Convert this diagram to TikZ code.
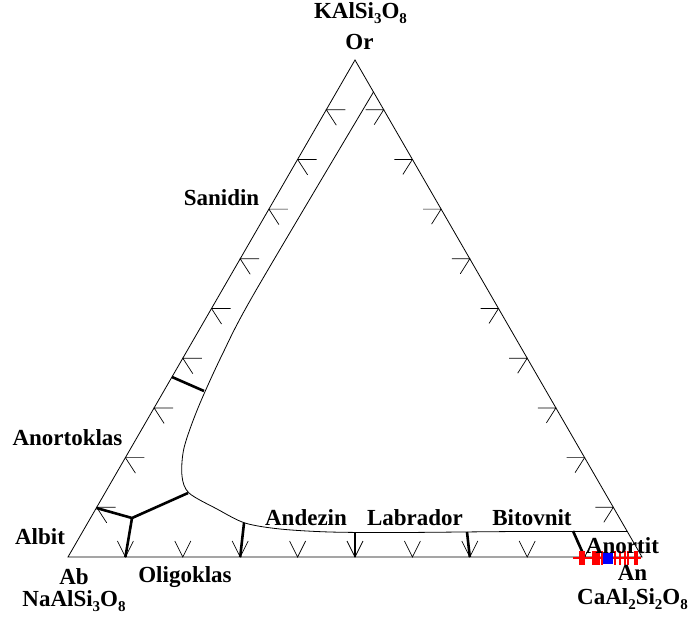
\documentclass[tikz,border=0pt]{standalone}
\usepackage{fontspec}
\setmainfont{Liberation Serif}
\newcommand\mysub[1]{\raisebox{-5pt}{\fontsize{15}{15}\selectfont #1}}
\begin{document}
\begin{tikzpicture}[x=1pt,y=-1pt,
  thinline/.style={line width=0.8pt},
  thickline/.style={line width=2.6pt,line join=round},
  lbl/.style={font=\fontsize{23}{26}\selectfont\bfseries, inner sep=0pt, anchor=base},
  tickmark/.style={line width=0.7pt},
  redmark/.style={red,line width=1.4pt}]
\useasboundingbox (0,0) rectangle (692,623);
\coordinate (Or) at (355,60);
\coordinate (Ab) at (68,557);
\coordinate (An) at (642,557);
\draw[thinline] (Or) -- (Ab) -- (An) -- cycle;
% ticks
\foreach \k in {1,...,9} {
  \draw[tickmark] ({68+28.7*\k+19},{557-49.7*\k}) -- ++(-19,0) -- ++(10,15.5);
  \draw[tickmark] ({642-28.7*\k-18},{557-49.7*\k}) -- ++(18,0) -- ++(-9.5,15);
  \draw[tickmark] ({68+57.4*\k-8},541) -- ++(8,16) -- ++(8,-16);
}
% inner curve
\draw[thinline] plot[smooth, tension=0.5] coordinates {(373.5,92) (255,292) (222,355) (198,408) (184,448) (182,476) (189,493) (217,509) (245,523) (280,529) (330,532) (400,532.5) (520,531.5) (627.6,531.5)};
% thick boundaries
\coordinate (s1) at (172,377); \coordinate (s2) at (204,391);
\draw[thickline] (s1) -- (s2);
\coordinate (j) at (132,518);
\coordinate (jl) at (96.5,508); \coordinate (jc) at (188,493); \coordinate (jb) at (125.4,557);
\draw[thickline] (jl) -- (j) -- (jc);
\draw[thickline] (j) -- (jb);
\coordinate (a1) at (244,523); \coordinate (b1) at (240.2,557);
\coordinate (a2) at (355,533); \coordinate (b2) at (355,557);
\coordinate (a3) at (467,532); \coordinate (b3) at (469.8,557);
\coordinate (a4) at (573,531); \coordinate (b4) at (584.6,557);
\draw[thickline] (a1) -- (b1);
\draw[thickline] (a2) -- (b2);
\draw[thickline] (a3) -- (b3);
\draw[thickline] (a4) -- (b4);
% red / blue markers
\draw[red,line width=2pt] (573,558) -- (641,558);
\foreach \x in {580,582,584,593,595,597,599,602,615,620,625,628,635,637} {
  \draw[redmark] (\x,551) -- (\x,565);
}
\fill[blue] (603,553) rectangle (613,564);
\fill[blue] (608,558.5) circle (5);
% labels
\node[lbl] (kal) at (360.5,18.3) {KAlSi\mysub{3}O\mysub{8}};
\node[lbl] (or) at (359.5,50) {Or};
\node[lbl] (san) at (221.5,205) {Sanidin};
\node[lbl] (ano) at (67.5,445) {Anortoklas};
\node[lbl] (alb) at (40,544) {Albit};
\node[lbl] (ab) at (74,584) {Ab};
\node[lbl] (naal) at (74,606) {NaAlSi\mysub{3}O\mysub{8}};
\node[lbl] (oli) at (185,582) {Oligoklas};
\node[lbl] (and) at (306,525) {Andezin};
\node[lbl] (lab) at (415,525) {Labrador};
\node[lbl] (bit) at (532,525) {Bitovnit};
\node[lbl] (anor) at (622.5,553) {Anortit};
\node[lbl] (an) at (632.5,580) {An};
\node[lbl] (caal) at (632.5,604) {CaAl\mysub{2}Si\mysub{2}O\mysub{8}};
\end{tikzpicture}
\end{document}
